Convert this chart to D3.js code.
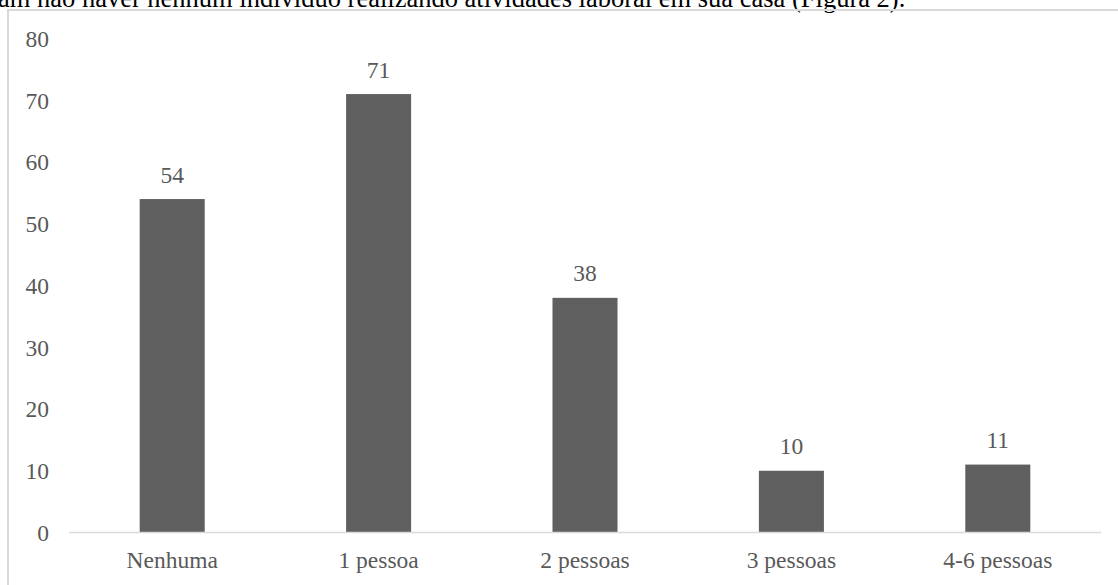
<!DOCTYPE html>
<html>
<head>
<meta charset="utf-8">
<script src="https://cdn.jsdelivr.net/npm/d3@7"></script>
<style>
  html, body { margin: 0; padding: 0; background: #fff; }
  svg { display: block; }
</style>
</head>
<body>
<svg id="chart" width="1118" height="585"></svg>
<script>
// Number of people working from home per household
const categories = ["Nenhuma", "1 pessoa", "2 pessoas", "3 pessoas", "4-6 pessoas"];
const values = [54, 71, 38, 10, 11];
const yTicks = [0, 10, 20, 30, 40, 50, 60, 70, 80];
const bodyLine = "am não haver nenhum indivíduo realizando atividades laboral em sua casa (Figura 2).";

const W = 1118, H = 585;
const svg = d3.select("#chart");
const font = "'Liberation Serif', 'Times New Roman', serif";
const textColor = "#595959";
const barColor = "#5f5f5f";
const lineColor = "#d9d9d9";

// Running text line above the figure
svg.append("text")
  .attr("x", -2)
  .attr("y", 6.5)
  .attr("font-family", font)
  .attr("font-size", 26.5)
  .attr("fill", "#000")
  .text(bodyLine);

// Chart frame
svg.append("rect")
  .attr("x", 8)
  .attr("y", 10)
  .attr("width", W + 20)
  .attr("height", H + 20)
  .attr("fill", "none")
  .attr("stroke", lineColor)
  .attr("stroke-width", 2);

const plot = { left: 69, right: 1101, top: 38.5, bottom: 532.5 };

const x = d3.scaleBand()
  .domain(categories)
  .range([plot.left, plot.right])
  .paddingInner(0.685)
  .paddingOuter(0.3425);

const y = d3.scaleLinear()
  .domain([0, 80])
  .range([plot.bottom, plot.top]);

// Value axis labels (no line, no ticks)
const yAxis = svg.append("g")
  .attr("transform", `translate(${plot.left - 20},0)`)
  .call(d3.axisLeft(y).tickValues(yTicks).tickSize(0).tickPadding(0));
yAxis.select(".domain").remove();
yAxis.selectAll("text")
  .attr("font-family", font)
  .attr("font-size", 23.5)
  .attr("fill", textColor)
  .attr("dy", "0.33em");

// Bars
svg.append("g")
  .selectAll("rect")
  .data(values)
  .join("rect")
  .attr("x", (d, i) => x(categories[i]))
  .attr("y", d => y(d))
  .attr("width", x.bandwidth())
  .attr("height", d => y(0) - y(d))
  .attr("fill", barColor);

// Category axis
const xAxis = svg.append("g")
  .attr("transform", `translate(0,${plot.bottom})`)
  .call(d3.axisBottom(x).tickSize(0).tickPadding(0).tickSizeOuter(0));
xAxis.select(".domain")
  .attr("stroke", lineColor)
  .attr("stroke-width", 1.5)
  .attr("d", `M${plot.left},0H${plot.right}`);
xAxis.selectAll("text")
  .attr("font-family", font)
  .attr("font-size", 23.5)
  .attr("fill", textColor)
  .attr("dy", null)
  .attr("y", 35.5);

// Data labels
svg.append("g")
  .selectAll("text")
  .data(values)
  .join("text")
  .attr("x", (d, i) => x(categories[i]) + x.bandwidth() / 2)
  .attr("y", d => y(d) - 16.5)
  .attr("text-anchor", "middle")
  .attr("font-family", font)
  .attr("font-size", 23.5)
  .attr("fill", textColor)
  .text(d => d);
</script>
</body>
</html>
